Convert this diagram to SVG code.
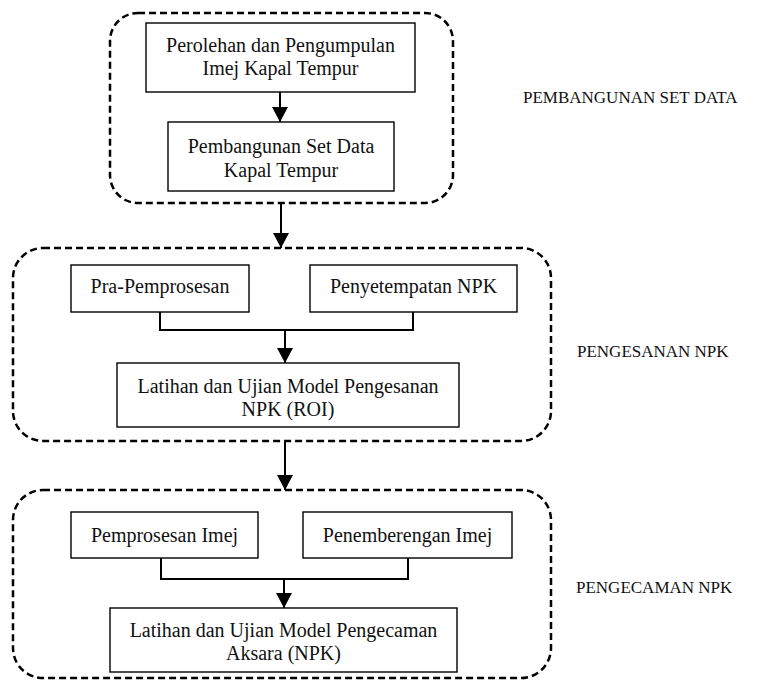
<svg xmlns="http://www.w3.org/2000/svg" width="758" height="680" viewBox="0 0 758 680">
<defs>
<style>
.grp{fill:none;stroke:#000;stroke-width:2.5;stroke-dasharray:7 4}
.box{fill:#fff;stroke:#000;stroke-width:1.4}
.t{font-size:20px;fill:#111;text-anchor:middle}
.lbl{font-size:17px;fill:#111}
.ln{fill:none;stroke:#000;stroke-width:2}
</style>
<marker id="ah" markerUnits="userSpaceOnUse" markerWidth="16" markerHeight="16" viewBox="0 0 16 16" refX="15" refY="8" orient="auto">
<path d="M0,0 L15,8 L0,16 Z" fill="#000"/>
</marker>
</defs>
<rect class="grp" x="110" y="13" width="343" height="190" rx="28"/>
<rect class="grp" x="13" y="248" width="538" height="193" rx="30"/>
<rect class="grp" x="13" y="490" width="538" height="188" rx="30"/>
<g id="connectors">
<line class="ln" x1="280" y1="92" x2="280" y2="122" marker-end="url(#ah)"/>
<line class="ln" x1="281" y1="203" x2="281" y2="248" marker-end="url(#ah)"/>
<polyline class="ln" points="160,312 160,330 413,330 413,312"/>
<line class="ln" x1="285" y1="330" x2="285" y2="363" marker-end="url(#ah)"/>
<line class="ln" x1="285" y1="441" x2="285" y2="490" marker-end="url(#ah)"/>
<polyline class="ln" points="161,558 161,579 408,579 408,558"/>
<line class="ln" x1="284" y1="579" x2="284" y2="608" marker-end="url(#ah)"/>
</g>
<g font-family="Liberation Serif, Times New Roman, serif">
<g id="n1"><rect class="box" x="146" y="23" width="269" height="69"/>
<text class="t" x="280.5" y="52">Perolehan dan Pengumpulan</text>
<text class="t" x="280.5" y="75">Imej Kapal Tempur</text></g>
<g id="n2"><rect class="box" x="168" y="122" width="226" height="69"/>
<text class="t" x="281" y="153">Pembangunan Set Data</text>
<text class="t" x="281" y="177">Kapal Tempur</text></g>
<g id="n3"><rect class="box" x="71" y="265" width="178" height="47"/>
<text class="t" x="160" y="293">Pra-Pemprosesan</text></g>
<g id="n4"><rect class="box" x="310" y="265" width="207" height="47"/>
<text class="t" x="413.5" y="293">Penyetempatan NPK</text></g>
<g id="n5"><rect class="box" x="117" y="363" width="342" height="64"/>
<text class="t" x="288" y="393">Latihan dan Ujian Model Pengesanan</text>
<text class="t" x="288" y="416">NPK (ROI)</text></g>
<g id="n6"><rect class="box" x="71" y="512" width="187" height="46"/>
<text class="t" x="164.5" y="542">Pemprosesan Imej</text></g>
<g id="n7"><rect class="box" x="303" y="512" width="209" height="46"/>
<text class="t" x="407.5" y="542">Penemberengan Imej</text></g>
<g id="n8"><rect class="box" x="110" y="608" width="347" height="64"/>
<text class="t" x="283.5" y="637">Latihan dan Ujian Model Pengecaman</text>
<text class="t" x="283.5" y="660">Aksara (NPK)</text></g>
<g id="labels">
<text class="lbl" x="523" y="103" font-size="16.5">PEMBANGUNAN SET DATA</text>
<text class="lbl" x="577" y="357">PENGESANAN NPK</text>
<text class="lbl" x="576" y="593">PENGECAMAN NPK</text>
</g>
</g>
</svg>
